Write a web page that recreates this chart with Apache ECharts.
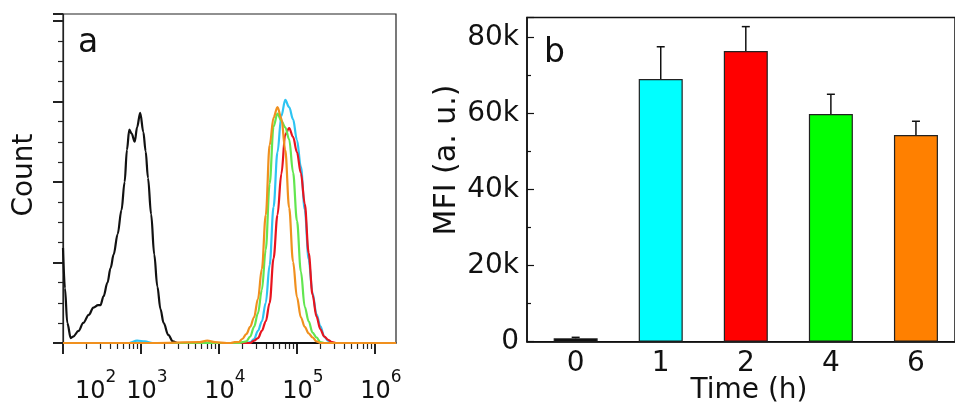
<!DOCTYPE html>
<html>
<head>
<meta charset="utf-8">
<script src="https://cdn.jsdelivr.net/npm/echarts@6.0.0/dist/echarts.min.js"></script>
<style>
  html, body { margin: 0; padding: 0; background: #fff; }
  #chart { width: 955px; height: 410px; }
</style>
</head>
<body>
<div id="chart"></div>
<script>
// panel a: flow cytometry histograms, x in log10(intensity)
const decades = [2, 3, 4, 5, 6]
const blackLog = [2.0, 2.025, 2.055, 2.1, 2.13, 2.2, 2.26, 2.33, 2.39, 2.45, 2.48, 2.52, 2.57, 2.61, 2.65, 2.7, 2.75, 2.79, 2.82, 2.85, 2.88, 2.92, 2.95, 2.99, 3.03, 3.06, 3.09, 3.13, 3.17, 3.21, 3.25, 3.29, 3.35, 3.41, 3.47, 6.27]
const blackCount = [118, 68, 25, 6, 8, 15, 25, 35, 44, 47, 47, 58, 75, 93, 110, 135, 165, 200, 240, 265, 260, 250, 268, 286, 262, 238, 205, 160, 110, 70, 42, 25, 10, 2, 0, 0]
const colorLog = [2.0, 2.85, 2.95, 3.05, 3.15, 3.75, 3.85, 3.95, 4.1,
  4.15, 4.2, 4.25, 4.3, 4.35, 4.4, 4.45, 4.5, 4.55, 4.6, 4.65, 4.7, 4.75, 4.8, 4.85, 4.9, 4.95, 5.0, 5.05, 5.1, 5.15, 5.2, 5.25, 5.3, 5.35, 5.4, 5.45, 5.5,
  5.6, 6.27]
const cyanCount = [0, 0, 3, 2, 0, 0, 0, 0, 0,
  0, 0, 0, 0, 0, 1, 5, 15, 27, 50, 97, 169, 237, 282, 302, 293, 278, 252, 219, 166, 104, 62, 36, 21, 8, 3, 0, 0,
  0, 0]
const redCount = [0, 0, 0, 0, 0, 0, 0, 0, 0,
  0, 0, 0, 0, 0, 0, 3, 6, 15, 27, 50, 105, 159, 210, 259, 267, 256, 237, 211, 173, 112, 60, 33, 17, 8, 4, 1, 0,
  0, 0]
const greenCount = [0, 0, 0, 0, 0, 0, 0, 0, 0,
  0, 0, 0, 1, 2, 8, 20, 37, 66, 116, 198, 269, 285, 276, 268, 253, 212, 152, 89, 45, 27, 13, 7, 1, 0, 0, 0, 0,
  0, 0]
const orangeCount = [0, 0, 0, 0, 0, 1, 3, 1, 0,
  0, 1, 1, 5, 11, 20, 32, 55, 92, 159, 246, 280, 293, 279, 240, 168, 101, 57, 32, 20, 12, 7, 2, 0, 0, 0, 0, 0,
  0, 0]

// panel b: MFI bars
const timeLabels = ['0', '1', '2', '4', '6']
const mfiValues = [900, 69100, 76500, 59900, 54400]
const mfiErrors = [250, 8500, 6400, 5200, 3600]
const barColors = ['#000000', '#00FFFF', '#FF0000', '#00FF00', '#FF8000']

const FONT = 'DejaVu Sans'
const ink = '#111'

const chart = echarts.init(document.getElementById('chart'), null, { renderer: 'canvas' })

// minor log ticks 2..9 x 10^d
const minorTicks = []
decades.slice(0, -1).forEach(d => {
  for (let k = 2; k <= 9; k++) minorTicks.push(d + Math.log10(k))
})

const pair = (xs, ys) => xs.map((x, i) => [x, ys[i]])

const curve = (name, xs, ys, color) => ({
  name,
  type: 'line',
  xAxisIndex: 0,
  yAxisIndex: 0,
  data: pair(xs, ys),
  showSymbol: false,
  smooth: 0.35,
  smoothMonotone: 'x',
  lineStyle: { color, width: 2.2 },
  z: 3
})

const option = {
  animation: false,
  backgroundColor: '#fff',
  grid: [
    { left: 63, top: 14, width: 333, height: 329, show: true, borderColor: '#222', borderWidth: 1.2, backgroundColor: 'transparent' },
    { left: 527, top: 17.5, width: 444, height: 324.2, show: true, borderColor: ink, borderWidth: 1.5, backgroundColor: 'transparent' }
  ],
  xAxis: [
    {
      gridIndex: 0, type: 'value', min: 2, max: 6.27,
      axisLine: { show: true, onZero: false, lineStyle: { color: '#222', width: 1.5 } },
      axisTick: { show: true, inside: false, length: 11, customValues: decades, lineStyle: { color: '#222', width: 2 } },
      axisLabel: {
        customValues: decades,
        alignMinLabel: 'left',
        margin: 26,
        formatter: v => '{b|10}{s|' + v + '}',
        rich: {
          b: { fontSize: 24, fontFamily: FONT, color: ink, padding: [11, 0, 0, 12] },
          s: { fontSize: 17, fontFamily: FONT, color: ink, verticalAlign: 'top' }
        }
      },
      splitLine: { show: false }
    },
    {
      gridIndex: 0, type: 'value', min: 2, max: 6.27, position: 'bottom',
      axisLine: { show: false, onZero: false },
      axisTick: { show: true, inside: false, length: 6, customValues: minorTicks, lineStyle: { color: '#222', width: 1.2 } },
      axisLabel: { show: false },
      splitLine: { show: false }
    },
    {
      gridIndex: 1, type: 'value', min: -0.572, max: 4.459,
      axisLine: { show: true, onZero: false, lineStyle: { color: ink, width: 1.5 } },
      axisTick: { show: false },
      axisLabel: {
        customValues: [0, 1, 2, 3, 4],
        formatter: v => timeLabels[v],
        fontSize: 28, fontFamily: FONT, color: ink, margin: 8
      },
      splitLine: { show: false }
    }
  ],
  yAxis: [
    {
      gridIndex: 0, type: 'value', min: 0, max: 408.7, interval: 100,
      axisLine: { show: true, onZero: false, lineStyle: { color: '#222', width: 1.2 } },
      axisTick: { show: true, inside: false, length: 10, lineStyle: { color: '#222', width: 2 } },
      minorTick: { show: true, splitNumber: 4, length: 5, lineStyle: { color: '#222', width: 1.2 } },
      axisLabel: { show: false },
      splitLine: { show: false }
    },
    {
      gridIndex: 1, type: 'value', min: 0, max: 85300, interval: 20000,
      axisLine: { show: true, onZero: false, lineStyle: { color: ink, width: 1.5 } },
      axisTick: { show: true, inside: true, length: 7, lineStyle: { color: ink, width: 1.2 } },
      minorTick: { show: true, splitNumber: 2, length: 4, lineStyle: { color: ink, width: 1.2 } },
      axisLabel: {
        formatter: v => v === 0 ? '0' : (v / 1000) + 'k',
        fontSize: 28, fontFamily: FONT, color: ink, margin: 8
      },
      splitLine: { show: false }
    }
  ],
  series: [
    curve('0 h', blackLog, blackCount, '#111111'),
    curve('1 h', colorLog, cyanCount, '#2EC4F2'),
    curve('2 h', colorLog, redCount, '#E8141E'),
    curve('4 h', colorLog, greenCount, '#62E650'),
    curve('6 h', colorLog, orangeCount, '#F0901E'),
    {
      name: 'MFI',
      type: 'bar',
      xAxisIndex: 2,
      yAxisIndex: 1,
      barWidth: 44,
      data: mfiValues.map((v, i) => ({
        value: [i, v],
        itemStyle: { color: barColors[i], borderColor: '#222', borderWidth: 1.2 }
      })),
      z: 2
    },
    {
      name: 'error',
      type: 'custom',
      xAxisIndex: 2,
      yAxisIndex: 1,
      data: mfiValues.map((v, i) => [i, v, v + mfiErrors[i]]),
      renderItem: (params, api) => {
        const base = api.coord([api.value(0), api.value(1)])
        const top = api.coord([api.value(0), api.value(2)])
        const style = { stroke: ink, lineWidth: 1.5 }
        return {
          type: 'group',
          children: [
            { type: 'line', shape: { x1: base[0], y1: base[1], x2: top[0], y2: top[1] }, style },
            { type: 'line', shape: { x1: top[0] - 4, y1: top[1], x2: top[0] + 4, y2: top[1] }, style }
          ]
        }
      },
      z: 3
    }
  ],
  graphic: [
    { type: 'text', x: 78, y: 43, style: { text: 'a', font: '33px "DejaVu Sans"', fill: ink, textAlign: 'left', textVerticalAlign: 'middle' } },
    { type: 'text', x: 544, y: 53, style: { text: 'b', font: '33px "DejaVu Sans"', fill: ink, textAlign: 'left', textVerticalAlign: 'middle' } },
    { type: 'text', x: 25, y: 175, rotation: Math.PI / 2, style: { text: 'Count', font: '28px "DejaVu Sans"', fill: ink, textAlign: 'center', textVerticalAlign: 'middle' } },
    { type: 'text', x: 447, y: 160, rotation: Math.PI / 2, style: { text: 'MFI (a. u.)', font: '30px "DejaVu Sans"', fill: ink, textAlign: 'center', textVerticalAlign: 'middle' } },
    { type: 'text', x: 749, y: 391, style: { text: 'Time (h)', font: '28px "DejaVu Sans"', fill: ink, textAlign: 'center', textVerticalAlign: 'middle' } }
  ]
}

chart.setOption(option)
</script>
</body>
</html>
